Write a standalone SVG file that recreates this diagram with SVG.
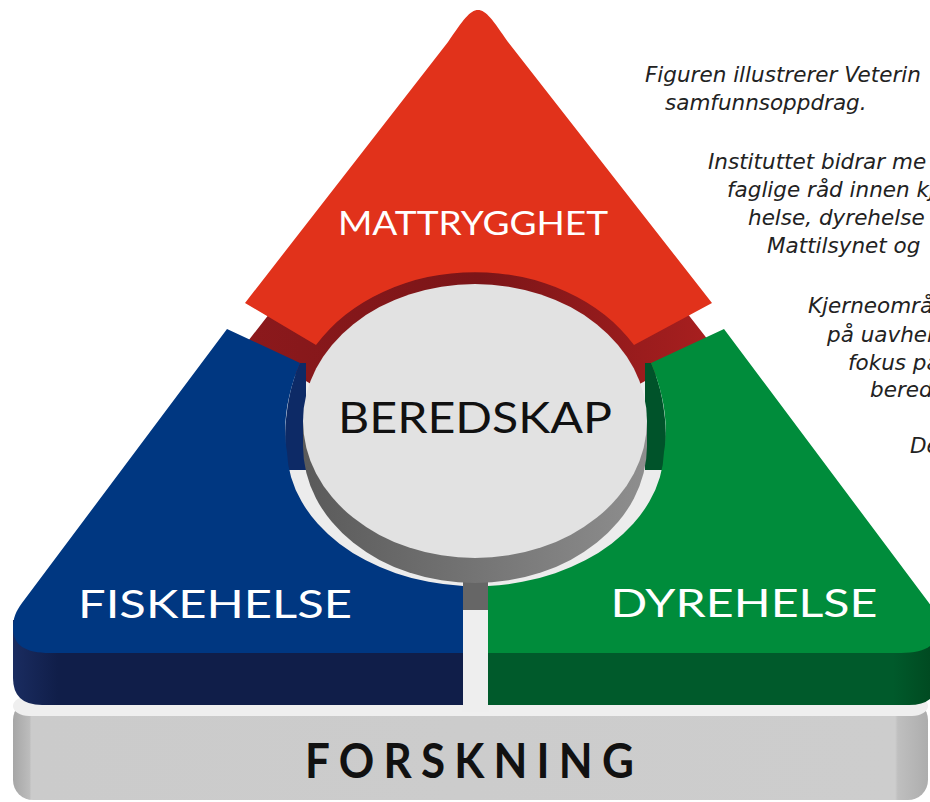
<svg xmlns="http://www.w3.org/2000/svg" width="930" height="802" viewBox="0 0 930 802">
  <defs>
    <linearGradient id="redSide" x1="245" y1="0" x2="712" y2="0" gradientUnits="userSpaceOnUse">
      <stop offset="0" stop-color="#8c191c"/>
      <stop offset="0.5" stop-color="#7b1518"/>
      <stop offset="1" stop-color="#a81f1f"/>
    </linearGradient>
    <linearGradient id="discSide" x1="303" y1="0" x2="647" y2="0" gradientUnits="userSpaceOnUse">
      <stop offset="0" stop-color="#5a5a5a"/>
      <stop offset="1" stop-color="#8e8e8e"/>
    </linearGradient>
    <linearGradient id="baseGrad" x1="13" y1="0" x2="928" y2="0" gradientUnits="userSpaceOnUse">
      <stop offset="0" stop-color="#a6a6a6"/>
      <stop offset="0.018" stop-color="#bcbcbc"/>
      <stop offset="0.02" stop-color="#cbcbcb"/>
      <stop offset="0.964" stop-color="#cdcdcd"/>
      <stop offset="0.967" stop-color="#bfbfbf"/>
      <stop offset="1" stop-color="#adadad"/>
    </linearGradient>
    <linearGradient id="navySide" x1="13" y1="0" x2="463" y2="0" gradientUnits="userSpaceOnUse">
      <stop offset="0" stop-color="#1a2c60"/>
      <stop offset="0.1" stop-color="#101e49"/>
      <stop offset="1" stop-color="#101e49"/>
    </linearGradient>
    <linearGradient id="greenSide" x1="13" y1="0" x2="463" y2="0" gradientUnits="userSpaceOnUse">
      <stop offset="0" stop-color="#00471f"/>
      <stop offset="0.1" stop-color="#005a2b"/>
      <stop offset="1" stop-color="#005a2b"/>
    </linearGradient>
  </defs>
  <style>
    .label { font-family: Lato, "Open Sans", "DejaVu Sans", sans-serif; text-anchor: middle; }
    .white { fill: #ffffff; }
    .note { font-family: "DejaVu Sans", "Noto Sans", sans-serif; font-style: oblique; font-size: 21.5px; fill: #222222; }
  </style>
  <rect width="930" height="802" fill="#ffffff"/>

  <g id="forskning">
    <rect x="13" y="700" width="915" height="100" rx="20" fill="url(#baseGrad)"/>
    <rect x="13" y="696" width="915" height="20" rx="16" fill="#efefef"/>
    <text class="label" x="474" y="778" font-size="48" font-weight="700" fill="#111111" textLength="338" lengthAdjust="spacingAndGlyphs" letter-spacing="10">FORSKNING</text>
  </g>

  <g id="platform">
    <ellipse cx="475" cy="448" rx="192" ry="140" fill="#ececec"/>
    <rect x="462" y="560" width="27" height="152" fill="#eeeeee"/>
  </g>

  <g id="mattrygghet">
    <path transform="translate(0,42)" d="M245,303 L448,42 C463,20 470,10 478,10 C486,10 493,20 508,42 L712,303 L634,345 A185,149 0 0 0 316,345 Z" fill="url(#redSide)"/>
    <path d="M245,303 L448,42 C463,20 470,10 478,10 C486,10 493,20 508,42 L712,303 L634,345 A185,149 0 0 0 316,345 Z" fill="#e1321b"/>
    <text class="label white" x="473" y="235" font-size="33" textLength="270" lengthAdjust="spacingAndGlyphs">MATTRYGGHET</text>
  </g>

  <g id="fiskehelse">
    <path d="M13,620 L463,620 L463,705 L42,705 Q13,705 13,678 Z" fill="url(#navySide)"/>
    <path d="M300,363 L306,363 L306,470 L287,470 C282,430 287,392 300,363 Z" fill="#0d2a66"/>
    <path d="M227,329 L300,363 C288,392 282,422 287,452 A190,138 0 0 0 463,586 L463,653 L50,653 C25,653 13,645 13,628 C13,618 16,611 22,603 Z" fill="#003781"/>
    <text class="label white" x="215" y="618" font-size="39" textLength="274" lengthAdjust="spacingAndGlyphs">FISKEHELSE</text>
  </g>

  <g id="dyrehelse">
    <g transform="matrix(-1 0 0 1 951 0)">
      <path d="M13,620 L463,620 L463,705 L42,705 Q13,705 13,678 Z" fill="url(#greenSide)"/>
      <path d="M300,363 L306,363 L306,470 L287,470 C282,430 287,392 300,363 Z" fill="#00532a"/>
      <path d="M227,329 L300,363 C288,392 282,422 287,452 A190,138 0 0 0 463,586 L463,653 L50,653 C25,653 13,645 13,628 C13,618 16,611 22,603 Z" fill="#008c3b"/>
    </g>
    <text class="label white" x="744" y="617" font-size="39" textLength="267" lengthAdjust="spacingAndGlyphs">DYREHELSE</text>
  </g>

  <g id="beredskap">
    <rect x="463" y="560" width="25" height="50" fill="#666666"/>
    <path d="M303,421 L303,446 A172,137 0 0 0 647,446 L647,421 Z" fill="url(#discSide)"/>
    <ellipse cx="475" cy="421" rx="172" ry="137" fill="#e2e2e2"/>
    <text class="label" x="475" y="433" font-size="42" fill="#111111" textLength="274" lengthAdjust="spacingAndGlyphs">BEREDSKAP</text>
  </g>

  <g id="description">
    <text class="note" x="645" y="82">Figuren illustrerer Veterin</text>
    <text class="note" x="665" y="110">samfunnsoppdrag.</text>
    <text class="note" x="708" y="169">Instituttet bidrar me</text>
    <text class="note" x="727" y="197">faglige råd innen kj</text>
    <text class="note" x="748" y="225">helse, dyrehelse</text>
    <text class="note" x="767" y="253">Mattilsynet og</text>
    <text class="note" x="808" y="313">Kjerneområ</text>
    <text class="note" x="827" y="342">på uavhen</text>
    <text class="note" x="848" y="370">fokus på</text>
    <text class="note" x="870" y="397">bered</text>
    <text class="note" x="910" y="453">De</text>
  </g>
</svg>
